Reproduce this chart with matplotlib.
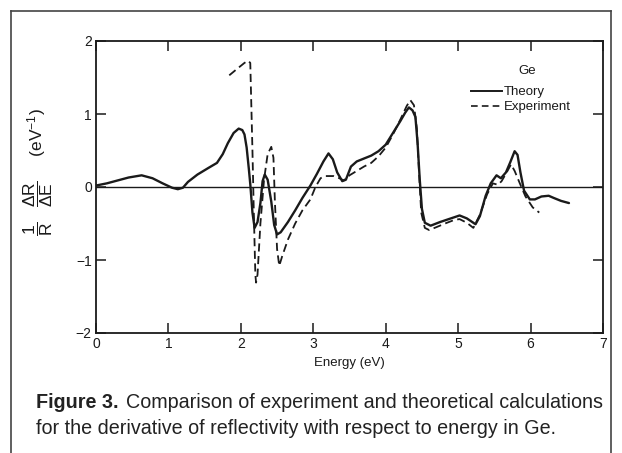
"""Recreate Figure 3: derivative of reflectivity vs energy in Ge."""
import matplotlib

matplotlib.use("Agg")
import matplotlib.pyplot as plt
from matplotlib.lines import Line2D

plt.rcParams["font.family"] = ["Liberation Sans", "DejaVu Sans"]
plt.rcParams["mathtext.fontset"] = "custom"
plt.rcParams["mathtext.rm"] = "Liberation Sans"
plt.rcParams["mathtext.it"] = "Liberation Sans"

# theory curve (solid)
theory_e = [0.00, 0.15, 0.30, 0.45, 0.63, 0.78, 0.92, 1.05, 1.13, 1.20, 1.27, 1.40,
            1.55, 1.67, 1.75, 1.82, 1.90, 1.97, 2.02, 2.05, 2.08, 2.11, 2.13, 2.16,
            2.19, 2.23, 2.27, 2.30, 2.33, 2.37, 2.42, 2.46, 2.50, 2.55, 2.65, 2.75,
            2.85, 2.96, 3.05, 3.14, 3.21, 3.27, 3.33, 3.40, 3.45, 3.52, 3.60, 3.70,
            3.80, 3.90, 4.00, 4.10, 4.20, 4.27, 4.32, 4.37, 4.41, 4.44, 4.47, 4.50,
            4.54, 4.62, 4.75, 4.90, 5.02, 5.12, 5.24, 5.30, 5.38, 5.45, 5.53, 5.59,
            5.66, 5.72, 5.78, 5.82, 5.86, 5.91, 5.99, 6.06, 6.15, 6.25, 6.32, 6.42,
            6.53]
theory_v = [0.02, 0.05, 0.09, 0.13, 0.16, 0.12, 0.05, -0.01, -0.03, -0.01, 0.07, 0.17,
            0.26, 0.33, 0.45, 0.60, 0.74, 0.80, 0.78, 0.72, 0.54, 0.25, 0.04, -0.35,
            -0.56, -0.48, -0.22, 0.08, 0.17, 0.10, -0.20, -0.52, -0.65, -0.62, -0.48, -0.32,
            -0.15, 0.02, 0.18, 0.35, 0.46, 0.38, 0.20, 0.08, 0.10, 0.28, 0.35, 0.39,
            0.43, 0.49, 0.58, 0.74, 0.90, 1.02, 1.09, 1.05, 0.96, 0.60, 0.10, -0.30,
            -0.49, -0.53, -0.48, -0.43, -0.39, -0.43, -0.51, -0.40, -0.12, 0.05, 0.16, 0.12,
            0.20, 0.34, 0.49, 0.44, 0.20, -0.05, -0.17, -0.17, -0.13, -0.12, -0.15, -0.19,
            -0.22]

# experiment curve (dashed)
exp_e = [1.84, 1.95, 2.05, 2.10, 2.13, 2.14, 2.16, 2.18, 2.20, 2.21, 2.23, 2.27,
         2.32, 2.37, 2.42, 2.45, 2.47, 2.50, 2.53, 2.57, 2.65, 2.75, 2.85, 2.96,
         3.03, 3.10, 3.16, 3.28, 3.36, 3.42, 3.50, 3.60, 3.70, 3.80, 3.90, 4.00,
         4.10, 4.20, 4.29, 4.34, 4.39, 4.43, 4.46, 4.49, 4.54, 4.60, 4.70, 4.82,
         4.95, 5.02, 5.12, 5.21, 5.30, 5.40, 5.48, 5.55, 5.60, 5.67, 5.73, 5.78,
         5.86, 5.93, 6.03, 6.12]
exp_v = [1.53, 1.62, 1.70, 1.73, 1.70, 1.30, 0.50, -0.40, -1.20, -1.31, -1.20, -0.50,
         0.10, 0.45, 0.55, 0.40, -0.20, -0.85, -1.08, -0.95, -0.72, -0.50, -0.32, -0.17,
         0.00, 0.12, 0.15, 0.15, 0.12, 0.09, 0.16, 0.22, 0.28, 0.33, 0.42, 0.54,
         0.72, 0.92, 1.11, 1.19, 1.12, 0.80, 0.20, -0.35, -0.56, -0.59, -0.55, -0.50,
         -0.45, -0.44, -0.49, -0.56, -0.38, -0.10, 0.05, 0.03, 0.08, 0.20, 0.31, 0.22,
         0.03, -0.13, -0.28, -0.35]

x_ticks = [0, 1, 2, 3, 4, 5, 6, 7]
y_ticks = [-2, -1, 0, 1, 2]

INK = "#1a1a1a"

fig = plt.figure(figsize=(6.22, 4.53), dpi=100)
ax = fig.add_axes([96 / 622, 1 - 333 / 453, 507 / 622, 292 / 453])

ax.axhline(0, color=INK, lw=1.0, zorder=1)
ax.plot(theory_e, theory_v, color=INK, lw=1.7, solid_joinstyle="round",
        solid_capstyle="round", label="Theory", zorder=3)
ax.plot(exp_e, exp_v, color=INK, lw=1.3, ls=(0, (4.5, 2.5)), label="Experiment",
        zorder=2)

ax.set_xlim(0, 7)
ax.set_ylim(-2, 2)
ax.set_xticks(x_ticks)
ax.set_yticks(y_ticks)
ax.set_xticklabels([str(t) for t in x_ticks])
ax.set_yticklabels(["\u22122", "\u22121", "0", "1", "2"])
ax.tick_params(direction="in", length=7, width=1.1, color=INK, labelcolor=INK,
               labelsize=10, top=True, right=True, pad=3)
for s in ax.spines.values():
    s.set_linewidth(1.3)
    s.set_color(INK)

ax.set_xlabel("Energy (eV)", fontsize=9.5, color=INK, labelpad=4)
ax.set_ylabel(r"$\dfrac{1}{R}\ \ \ \dfrac{\Delta R}{\Delta E}$     (eV$^{-1}$)",
              fontsize=12.5, color=INK)
ax.yaxis.set_label_coords(-0.08, 0.55)

# legend as in the original: title "Ge" with two entries
ax.text(5.95, 1.59, "Ge", fontsize=9.5, color=INK, ha="center", va="center")
handles = [Line2D([], [], color=INK, lw=1.4),
           Line2D([], [], color=INK, lw=1.2, ls=(0, (4, 2.5)))]
ax.legend(handles, ["Theory", "Experiment"], loc="upper left",
          bbox_to_anchor=(0.74, 0.845), frameon=False, fontsize=9.5,
          handlelength=2.3, handletextpad=0.2, labelspacing=0.2,
          borderaxespad=0, borderpad=0, labelcolor=INK)

# outer frame (open at the bottom)
frame = dict(color="#444444", lw=1.2, transform=fig.transFigure, clip_on=False)
fig.add_artist(Line2D([11 / 622, 11 / 622], [0, 1 - 11 / 453], **frame))
fig.add_artist(Line2D([11 / 622, 611 / 622], [1 - 11 / 453, 1 - 11 / 453], **frame))
fig.add_artist(Line2D([611 / 622, 611 / 622], [0, 1 - 11 / 453], **frame))

# caption
cap_size = 14.2
t1 = fig.text(36 / 622, 1 - 402 / 453, "Figure 3.", fontsize=cap_size,
              fontweight="bold", color="#222222", va="center")
fig.canvas.draw()
bb = t1.get_window_extent()
fig.text((bb.x1 + 7) / 622, 1 - 402 / 453,
         "Comparison of experiment and theoretical calculations",
         fontsize=cap_size, color="#222222", va="center")
fig.text(36 / 622, 1 - 428 / 453,
         "for the derivative of reflectivity with respect to energy in Ge.",
         fontsize=cap_size, color="#222222", va="center")

fig.savefig("out.png", dpi=100)
